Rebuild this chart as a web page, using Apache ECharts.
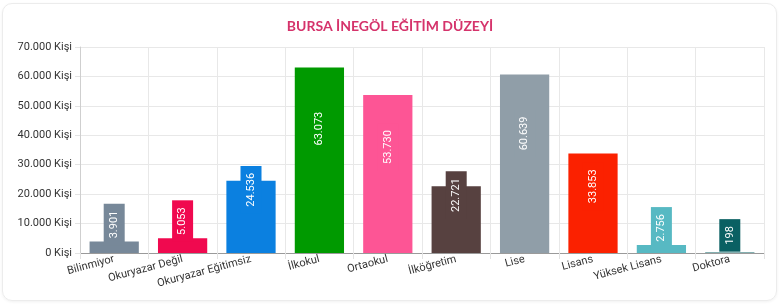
<!DOCTYPE html>
<html>
<head>
<meta charset="utf-8">
<script src="https://cdn.jsdelivr.net/npm/echarts@6/dist/echarts.min.js"></script>
<style>
  html, body { margin: 0; padding: 0; background: #ffffff; }
  #card { position: absolute; left: 2px; top: 3px; width: 773px; height: 296px; border: 1px solid #ececec; border-radius: 10px; box-shadow: 0 1px 3px rgba(0,0,0,0.06); }
  #chart { position: absolute; left: 0; top: 0; width: 780px; height: 305px; }
</style>
</head>
<body>
<div id="card"></div>
<div id="chart"></div>
<script>
const title = 'BURSA İNEGÖL EĞİTİM DÜZEYİ';
const categories = ['Bilinmiyor', 'Okuryazar Değil', 'Okuryazar Eğitimsiz', 'İlkokul', 'Ortaokul', 'İlköğretim', 'Lise', 'Lisans', 'Yüksek Lisans', 'Doktora'];
const values = [3901, 5053, 24536, 63073, 53730, 22721, 60639, 33853, 2756, 198];
const colors = ['#778899', '#f0094f', '#0b80e0', '#009a00', '#fd5595', '#574140', '#909ea8', '#fb2100', '#57b9c3', '#0a6063'];
const yTicks = [0, 10000, 20000, 30000, 40000, 50000, 60000, 70000];
const unit = 'Kişi';

function fmt(v) { return String(v).replace(/\B(?=(\d{3})+(?!\d))/g, '.'); }

function labelPos(v) {
  if (v >= 30000) return ['50%', '33%'];
  if (v >= 10000) return ['50%', 9];
  return ['50%', -17];
}

const chart = echarts.init(document.getElementById('chart'));
chart.setOption({
  animation: false,
  title: {
    text: title, left: 'center', top: 14,
    textStyle: { color: '#d5336b', fontSize: 14, fontWeight: 'bold', fontFamily: 'Lato' }
  },
  grid: { left: 80, right: 16, top: 47, bottom: 52, containLabel: false },
  xAxis: {
    type: 'category',
    data: categories,
    boundaryGap: true,
    axisLine: { show: true, lineStyle: { color: '#9a9a9a', width: 1 } },
    axisTick: { show: true, length: 6, lineStyle: { color: '#e3e3e3' } },
    splitLine: { show: true, lineStyle: { color: '#e8e8e8' } },
    axisLabel: { rotate: 15, color: '#333', fontSize: 11, fontFamily: 'Roboto', margin: 6, interval: 0 }
  },
  yAxis: {
    type: 'value', min: yTicks[0], max: yTicks[yTicks.length - 1], interval: yTicks[1] - yTicks[0],
    axisLine: { show: true, lineStyle: { color: '#cfcfcf' } },
    axisTick: { show: true, length: 5, lineStyle: { color: '#e3e3e3' } },
    splitLine: { show: true, lineStyle: { color: '#e8e8e8' } },
    axisLabel: { color: '#333', fontSize: 11, fontFamily: 'Roboto', margin: 8, formatter: v => fmt(v) + ' ' + unit }
  },
  series: [{
    type: 'bar',
    barWidth: '72%',
    data: values.map((v, i) => ({
      value: v,
      itemStyle: { color: colors[i] },
      label: {
        show: true,
        position: labelPos(v),
        rotate: 90,
        align: 'center',
        verticalAlign: 'middle',
        color: '#ffffff',
        fontSize: 11,
        fontFamily: 'Roboto',
        backgroundColor: colors[i],
        padding: [5, 7],
        formatter: p => fmt(p.value)
      }
    }))
  }]
});
</script>
</body>
</html>
